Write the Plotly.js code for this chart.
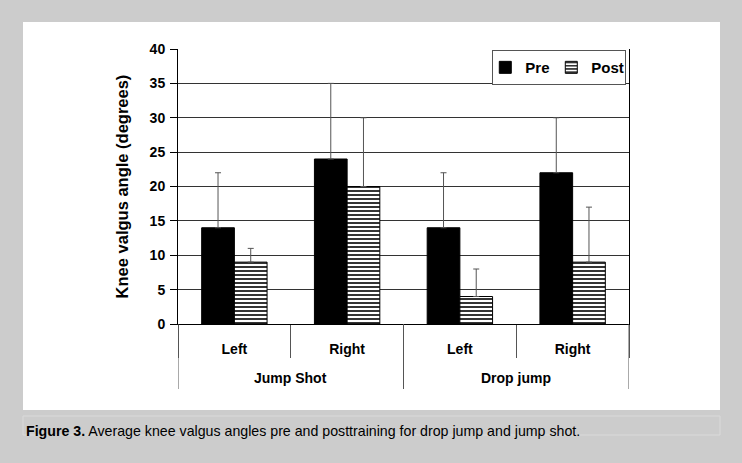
<!DOCTYPE html>
<html>
<head>
<meta charset="utf-8">
<script src="https://cdn.plot.ly/plotly-3.0.1.min.js"></script>
<style>html,body{margin:0;padding:0;background:#cccccc;}#chart{width:742px;height:463px;}</style>
</head>
<body>
<div id="chart"></div>
<script>
// Data
var tasks = ["Jump Shot", "Jump Shot", "Drop jump", "Drop jump"];
var sides = ["Left", "Right", "Left", "Right"];
var preValues = [14, 24, 14, 22];
var preErrors = [8, 11, 8, 8];
var postValues = [9, 20, 4, 9];
var postErrors = [2, 10, 4, 8];
var groupNames = ["Jump Shot", "Drop jump"];
var yTicks = [0, 5, 10, 15, 20, 25, 30, 35, 40];
var yTitle = "Knee valgus angle (degrees)";
var caption = "<b>Figure 3.</b> Average knee valgus angles pre and posttraining for drop jump and jump shot.";

var FONT = "Liberation Sans, Arial, Helvetica, sans-serif";

var keys = tasks.map(function (t, i) { return t + " / " + sides[i]; });

var pre = {
  type: "bar", name: "Pre",
  x: keys, y: preValues,
  marker: {color: "#000000", line: {color: "#000000", width: 1}},
  error_y: {type: "data", symmetric: false, array: preErrors, arrayminus: [0,0,0,0],
            color: "#555555", thickness: 1, width: 3}
};
var post = {
  type: "bar", name: "Post",
  x: keys, y: postValues,
  marker: {color: "#ffffff", line: {color: "#000000", width: 1},
           pattern: {shape: "-", fgcolor: "#000000", bgcolor: "#ffffff", size: 4, solidity: 0.4}},
  error_y: {type: "data", symmetric: false, array: postErrors, arrayminus: [0,0,0,0],
            color: "#555555", thickness: 1, width: 3}
};

var shapes = [
  {type: "rect", xref: "paper", yref: "paper", layer: "below",
   x0: (23-178)/451, x1: (720-178)/451, y0: (324-410)/275, y1: (324-22)/275,
   fillcolor: "#ffffff", line: {width: 0}},
  {type: "rect", xref: "paper", yref: "paper", layer: "below",
   x0: (23-178)/451, x1: (720-178)/451, y0: (324-435)/275, y1: (324-416)/275,
   fillcolor: "rgba(0,0,0,0)", line: {color: "#dadada", width: 1}}
];
var annotations = [
  {text: caption, xref: "paper", yref: "paper", x: (24-178)/451, y: (324-431)/275,
   xanchor: "left", yanchor: "middle", showarrow: false,
   font: {family: FONT, size: 14.2, color: "#000000"}}
];
var boundaries = [];
groupNames.forEach(function (g, gi) {
  var idx = [];
  tasks.forEach(function (t, i) { if (t === g) idx.push(i); });
  var first = idx[0], last = idx[idx.length - 1];
  if (gi === 0) boundaries.push(first - 0.5);
  boundaries.push(last + 0.5);
  annotations.push({text: g, xref: "x", yref: "paper", x: (first + last) / 2, y: (324-378)/275,
    xanchor: "center", yanchor: "middle", showarrow: false,
    font: {family: FONT, size: 14, weight: "bold", color: "#000000"}});
});
boundaries.forEach(function (b) {
  shapes.push({type: "line", xref: "x", yref: "paper", x0: b, x1: b, y0: 0, y1: (324-389)/275,
    line: {color: "#555555", width: 1}});
});

var layout = {
  width: 742, height: 463,
  margin: {l: 178, r: 113, t: 49, b: 139},
  paper_bgcolor: "#cccccc",
  plot_bgcolor: "#ffffff",
  font: {family: FONT, color: "#000000"},
  barmode: "group",
  bargap: 0.42,
  bargroupgap: 0,
  showlegend: true,
  legend: {
    orientation: "h", x: 0.994, xanchor: "right", y: 0.996, yanchor: "top",
    bgcolor: "#ffffff", bordercolor: "#555555", borderwidth: 1,
    font: {family: FONT, size: 15, weight: "bold", color: "#000000"},
    itemwidth: 30, tracegroupgap: 0, entrywidth: 29, indentation: -8
  },
  xaxis: {
    type: "category",
    tickvals: keys, ticktext: sides,
    range: [-0.5, keys.length - 0.5],
    showline: true, linecolor: "#000000", linewidth: 1,
    ticks: "outside", tickson: "boundaries", ticklen: 33, tickcolor: "#555555", tickwidth: 1,
    ticklabelstandoff: 12,
    tickfont: {family: FONT, size: 14, weight: "bold", color: "#000000"},
    showgrid: false, zeroline: false, fixedrange: true
  },
  yaxis: {
    range: [0, 40], tickvals: yTicks, ticktext: yTicks.map(String),
    showline: true, linecolor: "#000000", linewidth: 1, mirror: true,
    ticks: "outside", ticklen: 7, tickcolor: "#000000",
    ticklabelstandoff: 2,
    showgrid: true, gridcolor: "#333333", gridwidth: 1,
    zeroline: false,
    tickfont: {family: FONT, size: 14, weight: "bold", color: "#000000"},
    title: {text: yTitle, font: {family: FONT, size: 16.5, weight: "bold", color: "#000000"}, standoff: 16},
    fixedrange: true
  },
  shapes: shapes,
  annotations: annotations
};

Plotly.newPlot("chart", [pre, post], layout, {displayModeBar: false, staticPlot: true});
</script>
</body>
</html>
